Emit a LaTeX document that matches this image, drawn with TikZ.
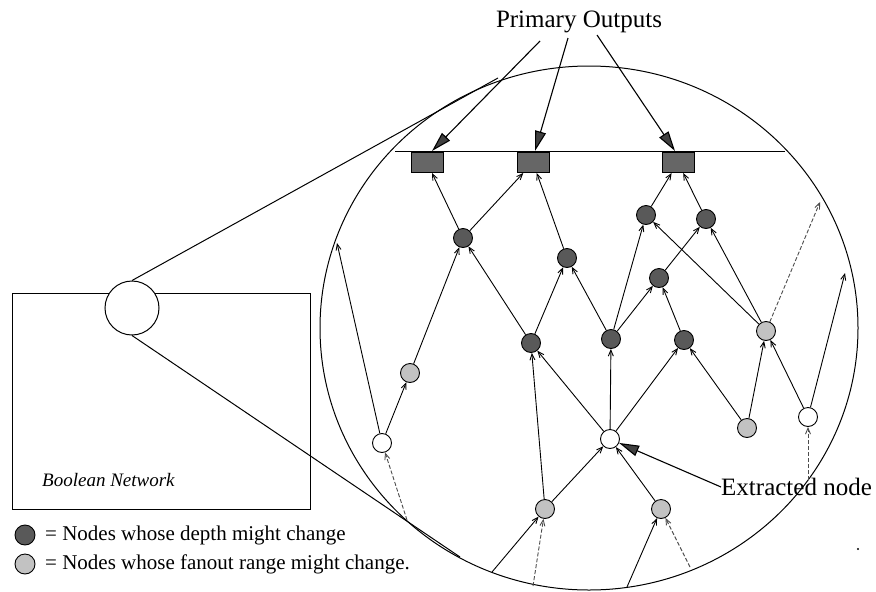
\documentclass[tikz,border=0pt]{standalone}
\usepackage{fontspec}
\setmainfont{Liberation Serif}
\usetikzlibrary{arrows.meta}
\begin{document}
\begin{tikzpicture}[x=1pt,y=-1pt,
  every node/.style={inner sep=0pt},
  nd/.style={circle,draw,line width=0.9pt,minimum size=19pt},
  dk/.style={nd,fill=black!65},
  lt/.style={nd,fill=black!24},
  wt/.style={nd,fill=white},
  po/.style={draw,line width=1pt,fill=black!60,minimum width=32pt,minimum height=20pt,anchor=north},
  ed/.style={line width=0.9pt,-{Straight Barb[length=6pt,width=5pt]}},
  dsh/.style={ed,black!70,dash pattern=on 4pt off 2pt},
  big/.style={line width=1.1pt,-{Triangle[length=20pt,width=11pt,fill=black!75]}},
  thin/.style={line width=1pt},
  lbl/.style={font=\fontsize{25}{30}\selectfont},
  leg/.style={font=\fontsize{21}{25}\selectfont,anchor=west},
]
\useasboundingbox (0,0) rectangle (876,592);

% boolean network and magnifier
\node[draw,thin,minimum width=298pt,minimum height=216pt,anchor=north west] (bn) at (12,293) {};
\node[anchor=west,font=\fontsize{19}{23}\selectfont\itshape] (bnl) at (42,480) {Boolean Network};
\node[circle,draw,thin,fill=white,minimum size=54pt] (mag) at (132,308) {};
\draw[thin] (589,328) ellipse [x radius=269, y radius=262];
\coordinate (tt) at (498,78);
\coordinate (tb) at (460,557);
\draw[thin] (mag.north) -- (tt);
\draw[thin] (mag.south) -- (tb);

% primary outputs
\draw[thin] (395,151) -- (785,151);
\node[po] (b1) at (427,152) {};
\node[po] (b2) at (533,152) {};
\node[po] (b3) at (678,152) {};
\node[lbl] (pol) at (579,22) {Primary Outputs};
\coordinate (p1) at (540,41);
\coordinate (p2) at (568,38);
\coordinate (p3) at (597,35);
\coordinate (t1) at (432,151);
\coordinate (t2) at (535,151);
\coordinate (t3) at (675,151);
\draw[big] (p1) -- (t1);
\draw[big] (p2) -- (t2);
\draw[big] (p3) -- (t3);

% nodes
\node[dk] (d1) at (463,238) {};
\node[dk] (d2) at (567,258) {};
\node[dk] (d3) at (646,215) {};
\node[dk] (d4) at (706,219) {};
\node[dk] (d5) at (659,278) {};
\node[dk] (d6) at (531,343) {};
\node[dk] (d7) at (611,339) {};
\node[dk] (d8) at (684,340) {};
\node[lt] (l1) at (410,373) {};
\node[lt] (l2) at (766,331) {};
\node[lt] (l3) at (747,428) {};
\node[lt] (l4) at (545,509) {};
\node[lt] (l5) at (661,509) {};
\node[wt] (w1) at (382,443) {};
\node[wt] (w2) at (610,439) {};
\node[wt] (w3) at (808,417) {};

% boundary coordinates
\coordinate (iw1) at (407,520);
\coordinate (ow1) at (337,243);
\coordinate (ol2) at (820,202);
\coordinate (ow3) at (845,273);
\coordinate (iw3) at (808,480);
\coordinate (i4a) at (492,572);
\coordinate (i4b) at (533,586);
\coordinate (i5a) at (627,587);
\coordinate (i5b) at (690,567);

% edges
\draw[ed] (d1) -- (b1);
\draw[ed] (d1) -- (b2);
\draw[ed] (d2) -- (b2);
\draw[ed] (d3) -- (b3);
\draw[ed] (d4) -- (b3);
\draw[ed] (l1) -- (d1);
\draw[ed] (d6) -- (d1);
\draw[ed] (d6) -- (d2);
\draw[ed] (d7) -- (d2);
\draw[ed] (d7) -- (d3);
\draw[ed] (l2) -- (d3);
\draw[ed] (d5) -- (d4);
\draw[ed] (l2) -- (d4);
\draw[ed] (d7) -- (d5);
\draw[ed] (d8) -- (d5);
\draw[ed] (l4) -- (d6);
\draw[ed] (w2) -- (d6);
\draw[ed] (w2) -- (d7);
\draw[ed] (w2) -- (d8);
\draw[ed] (l3) -- (d8);
\draw[ed] (w1) -- (l1);
\draw[ed] (l3) -- (l2);
\draw[ed] (w3) -- (l2);
\draw[ed] (l4) -- (w2);
\draw[ed] (l5) -- (w2);
\draw[ed] (w1) -- (ow1);
\draw[dsh] (l2) -- (ol2);
\draw[ed] (w3) -- (ow3);
\draw[dsh] (iw1) -- (w1);
\draw[dsh] (iw3) -- (w3);
\draw[ed] (i4a) -- (l4);
\draw[dsh] (i4b) -- (l4);
\draw[ed] (i5a) -- (l5);
\draw[dsh] (i5b) -- (l5);

% extracted node
\node[lbl,anchor=west] (exl) at (721,487) {Extracted node};
\draw[big] (exl.west) -- (w2);

% legend
\node[dk,minimum size=20pt] (lgd) at (25,535) {};
\node[lt,minimum size=20pt] (lgl) at (25,564) {};
\node[leg] (lgdt) at (45,535) {= Nodes whose depth might change};
\node[leg] (lglt) at (45,564) {= Nodes whose fanout range might change.};

\fill (858,549) circle [radius=1.2];
\end{tikzpicture}
\end{document}
